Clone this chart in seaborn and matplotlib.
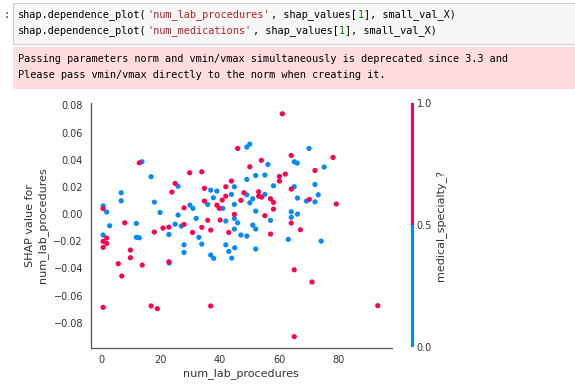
import matplotlib

matplotlib.use("Agg")
import matplotlib.pyplot as plt
import pandas as pd
import seaborn as sns
from matplotlib.colors import ListedColormap, Normalize
from matplotlib.colorbar import ColorbarBase

BLUE = "#008bfb"
RED = "#ff0052"

# points with medical_specialty_? == 1 (red)
red_x = [0.5, 7.8, 12.7, 17.8, 20.7, 22.7, 23.7, 24.8, 27.8, 27.8, 29.7, 30.7,
         33.8, 34.7, 34.7, 35.8, 33.8, 36.8, 38.9, 39.7, 40.0, 41.9, 41.9, 40.7,
         43.8, 44.8, 42.9, 45.9, 61.0, 53.9, 64.0, 78.1, 72.0, 50.0, 60.0, 62.0,
         60.0, 64.0, 48.0, 53.0, 53.0, 54.0, 47.0, 57.0, 58.0, 70.1, 79.2, 58.0,
         55.1, 64.0, 67.1, 57.0, 65.0, 71.0, 93.2, 65.0, 0.5, 1.7, 1.7, 0.5,
         9.7, 9.7, 5.6, 6.8, 13.7, 22.7, 0.5, 16.7, 18.8, 36.8]
red_y = [0.004, -0.0064, 0.0377, -0.0132, -0.0103, -0.0096, 0.0162, 0.0225,
         -0.0076, 0.0046, 0.0304, -0.0135, 0.0311, 0.0189, 0.0096, -0.0046,
         -0.0098, -0.0118, 0.0066, 0.0042, -0.0044, 0.0201, 0.0132, 0.0103,
         0.0243, -0.0002, -0.0135, 0.0483, 0.0738, 0.0395, 0.0431, 0.0417,
         0.0321, 0.0348, 0.0277, 0.0294, 0.0243, 0.0184, 0.0157, 0.0164,
         0.0132, 0.0125, 0.0101, 0.0113, 0.0086, 0.0108, 0.0074, 0.0037,
         -0.0012, -0.0066, -0.0115, -0.0147, -0.041, -0.05, -0.0674, -0.0902,
         -0.0201, -0.0176, -0.0216, -0.0245, -0.0265, -0.0321, -0.0365, -0.0456,
         -0.0375, -0.0351, -0.0686, -0.0676, -0.0696, -0.0676]

# points with medical_specialty_? == 0 (blue)
blue_x = [0.5, 1.7, 2.7, 6.6, 6.6, 13.6, 11.7, 16.7, 17.8, 19.7, 22.7, 25.8,
          25.8, 24.8, 26.9, 29.8, 30.8, 31.9, 35.8, 36.8, 37.7, 38.9, 40.9, 41.9,
          43.8, 44.8, 44.8, 45.9, 44.8, 49.0, 50.0, 56.1, 70.0, 65.0, 66.0, 75.1,
          52.0, 55.1, 49.0, 44.8, 58.0, 65.0, 72.0, 73.1, 49.0, 55.1, 51.0, 50.0,
          66.1, 69.1, 72.0, 52.0, 57.0, 64.0, 66.1, 64.0, 51.0, 52.0, 47.0, 49.0,
          63.0, 74.1, 44.9, 43.9, 52.0, 0.5, 11.7, 12.7, 22.8, 27.8, 27.8, 32.8,
          33.8, 36.8, 37.8, 41.9, 42.9]
blue_y = [0.006, 0.0015, -0.0086, 0.0157, 0.0098, 0.0385, -0.0069, 0.0275,
          0.0088, 0.0012, -0.015, 0.0204, -0.0007, -0.0074, -0.0088, 0.0066,
          0.0042, -0.0032, 0.0071, 0.0176, 0.012, 0.0169, 0.0042, -0.0051,
          0.0145, 0.0071, -0.0032, -0.0064, -0.011, 0.0493, 0.0515, 0.0365,
          0.0483, 0.0385, 0.0375, 0.0346, 0.0284, 0.0287, 0.0255, 0.0201,
          0.0208, 0.0201, 0.0218, 0.0142, 0.0142, 0.0145, 0.0113, 0.0083,
          0.0118, 0.0096, 0.009, 0.0022, -0.0046, 0.0017, 0.0, -0.0024,
          -0.0081, -0.011, -0.0154, -0.0162, -0.0186, -0.0199, -0.0248,
          -0.0324, -0.0257, -0.0154, -0.0171, -0.0174, -0.036, -0.0226,
          -0.0282, -0.0171, -0.0221, -0.0301, -0.0326, -0.0226, -0.0275]

colorbar_ticks = [0.0, 0.5, 1.0]

code_lines = [
    [("shap.dependence_plot(", "#000000"), ("'num_lab_procedures'", "#ba2121"),
     (", shap_values[", "#000000"), ("1", "#008000"), ("], small_val_X)", "#000000")],
    [("shap.dependence_plot(", "#000000"), ("'num_medications'", "#ba2121"),
     (", shap_values[", "#000000"), ("1", "#008000"), ("], small_val_X)", "#000000")],
]
warning_lines = [
    "Passing parameters norm and vmin/vmax simultaneously is deprecated since 3.3 and",
    "Please pass vmin/vmax directly to the norm when creating it.",
]

df = pd.concat([
    pd.DataFrame({"x": blue_x, "y": blue_y, "specialty": 0}),
    pd.DataFrame({"x": red_x, "y": red_y, "specialty": 1}),
], ignore_index=True)

sns.set_style("white")
plt.rcParams["font.family"] = ["DejaVu Sans"]

W, H = 575, 387
fig = plt.figure(figsize=(W / 100, H / 100), dpi=100)


def fx(px):
    return px / W


def fy(py):
    return 1 - py / H


# notebook cell chrome
fig.patches.append(plt.Rectangle((fx(13), fy(44)), fx(575 - 13) + 0.01, 41 / H,
                                 transform=fig.transFigure, facecolor="#f7f7f7",
                                 edgecolor="#cfcfcf", linewidth=0.8))
fig.patches.append(plt.Rectangle((fx(13), fy(89)), fx(575 - 13) + 0.01, 42 / H,
                                 transform=fig.transFigure, facecolor="#ffdddd",
                                 edgecolor="none"))
fig.text(fx(3), fy(15), ":", fontsize=7.4, family="DejaVu Sans Mono",
         va="center", color="#333333")

mono_size = 7.4
char_w = 0.602 * mono_size * 100 / 72
for row, segments in enumerate(code_lines):
    col = 0
    for text, color in segments:
        fig.text(fx(17.5 + col * char_w), fy(15 + row * 16), text, fontsize=mono_size,
                 family="DejaVu Sans Mono", color=color, va="center")
        col += len(text)
for row, line in enumerate(warning_lines):
    fig.text(fx(17.5), fy(59 + row * 16), line, fontsize=mono_size,
             family="DejaVu Sans Mono", color="#000000", va="center")

# dependence plot
ax = fig.add_axes([fx(90.7), fy(347.7), fx(392 - 90.7), (347.7 - 103.3) / H])
sns.scatterplot(data=df, x="x", y="y", hue="specialty",
                palette={0: BLUE, 1: RED}, s=14, linewidth=0, legend=False, ax=ax)
ax.set_xlim(-3.7, 98)
ax.set_ylim(-0.0983, 0.0815)
ax.set_xticks([0, 20, 40, 60, 80])
ax.set_yticks([-0.08, -0.06, -0.04, -0.02, 0.0, 0.02, 0.04, 0.06, 0.08])
ax.set_yticklabels([f"{v:.2f}".replace("-", "\u2212") for v in ax.get_yticks()])
ax.tick_params(labelsize=7, colors="#333333", length=3, width=0.8, pad=2.5)
ax.set_xlabel("num_lab_procedures", fontsize=8, color="#333333", labelpad=2)
ax.set_ylabel("SHAP value for\nnum_lab_procedures", fontsize=8, color="#333333")
for side in ("top", "right"):
    ax.spines[side].set_visible(False)
for side in ("left", "bottom"):
    ax.spines[side].set_color("#555555")
    ax.spines[side].set_linewidth(0.9)

cax = fig.add_axes([fx(410.8), fy(347.3), fx(3.2), (347.3 - 103.3) / H])
cb = ColorbarBase(cax, cmap=ListedColormap([BLUE, RED]), norm=Normalize(0, 1),
                  ticks=colorbar_ticks)
cb.outline.set_visible(False)
cb.ax.tick_params(labelsize=7, colors="#333333", length=0, pad=2)
cb.set_label("medical_specialty_?", fontsize=8, color="#333333", labelpad=2)

fig.savefig("out.png", dpi=100)
